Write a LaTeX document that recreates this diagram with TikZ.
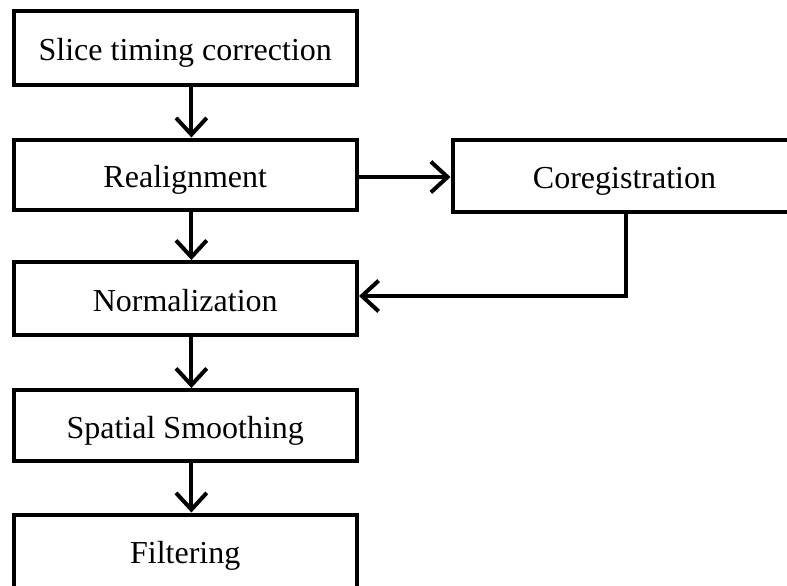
\documentclass[tikz,border=0pt]{standalone}
\usepackage{fontspec}
\setmainfont{Liberation Serif}
\usetikzlibrary{arrows.meta}
\begin{document}
\begin{tikzpicture}[x=0.75pt,y=-0.75pt,
  box/.style={draw=black,line width=3pt,rectangle,inner sep=0pt,
    minimum width=257.6pt,font=\fontsize{24}{28}\selectfont,
    text height=20.4pt,text depth=1.4pt},
  arr/.style={line width=3pt,-{Straight Barb[length=12.5pt,width=23pt,line width=3pt]}}]
\useasboundingbox (0,0) rectangle (787,585);
\clip (0,0) rectangle (787,585);
\node[box,minimum height=54.75pt] (b1) at (185.25,48) {Slice timing correction};
\node[box,minimum height=52.5pt] (b2) at (185.25,174.5) {Realignment};
\node[box,minimum height=55.1pt] (b3) at (185.25,298.75) {Normalization};
\node[box,minimum height=53.6pt] (b4) at (185.25,425.75) {Spatial Smoothing};
\node[box,minimum height=54.75pt] (b5) at (185.25,551) {Filtering};
\node[box,minimum width=258pt,minimum height=54pt] (co) at (624.5,175.5) {Coregistration};
\draw[arr] ([xshift=4.6pt]b1.south) -- ([xshift=4.6pt]b2.north);
\draw[arr] ([xshift=4.6pt]b2.south) -- ([xshift=4.6pt]b3.north);
\draw[arr] ([xshift=4.6pt]b3.south) -- ([xshift=4.6pt]b4.north);
\draw[arr] ([xshift=4.6pt]b4.south) -- ([xshift=4.6pt]b5.north);
\draw[arr] ([yshift=-1.9pt]b2.east) -- ([yshift=-1.9pt]b2.east -| co.west);
\coordinate (bend) at (626,296);
\draw[arr] (bend |- co.south) -- (bend) -- (bend -| b3.east);
\end{tikzpicture}
\end{document}
